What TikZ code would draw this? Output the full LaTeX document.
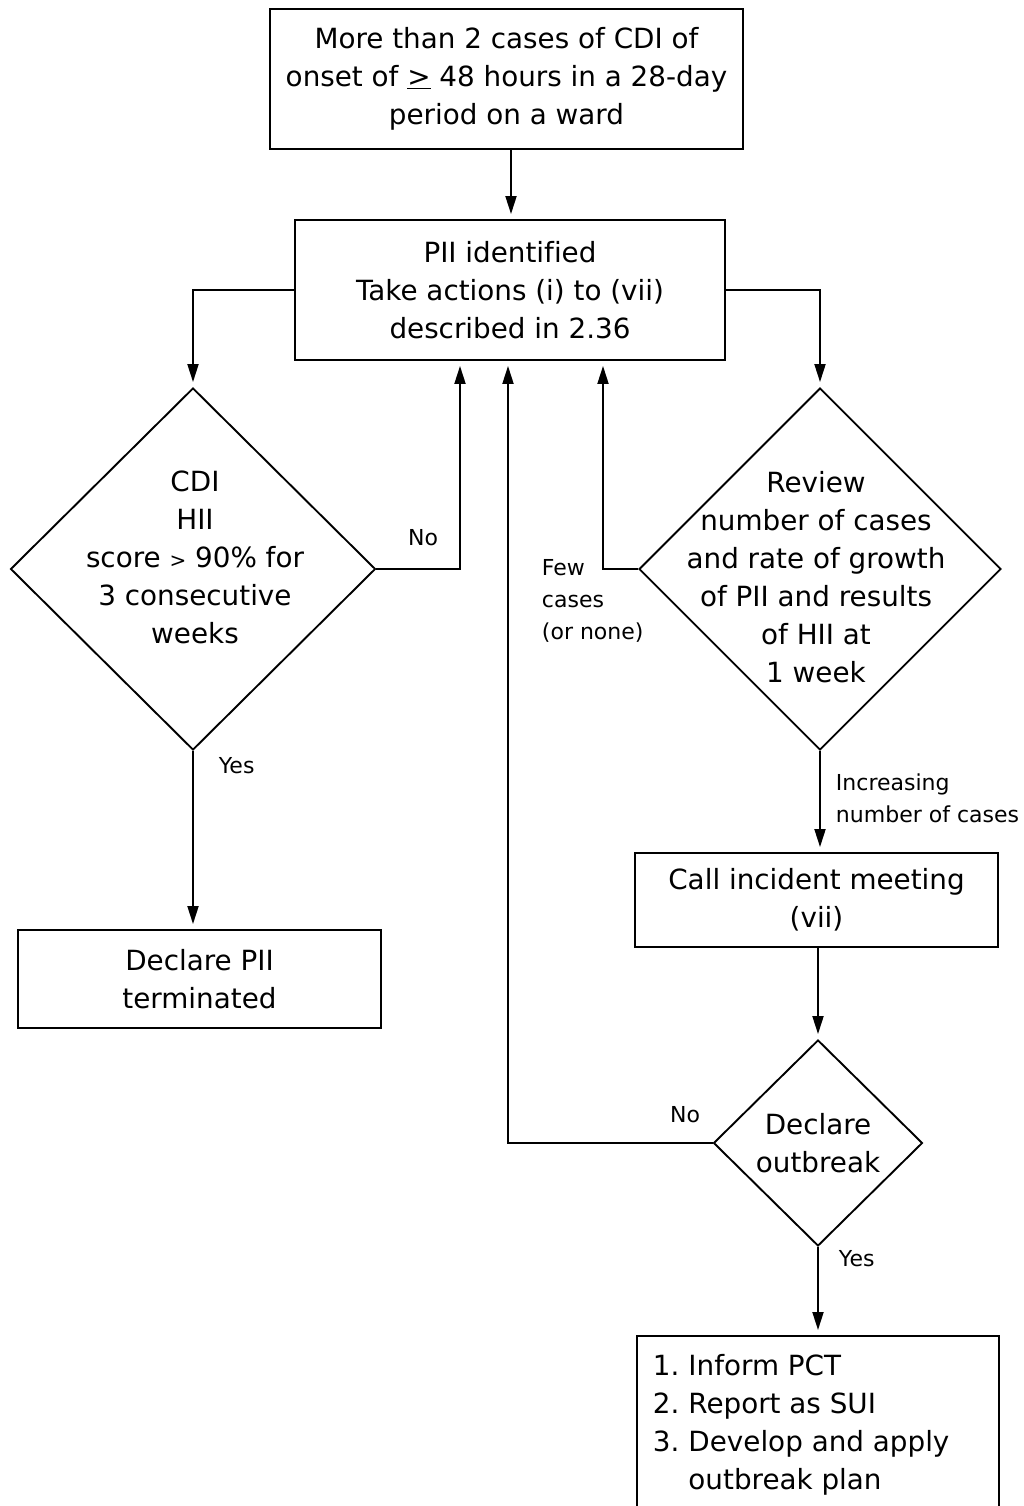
\documentclass[tikz,border=0pt]{standalone}
\usepackage{fontspec}
\setmainfont[Ligatures=NoCommon]{DejaVu Sans}
\usetikzlibrary{shapes.geometric,arrows.meta,calc}
\begin{document}
\begin{tikzpicture}[x=1pt,y=-1pt,
  line width=1.9pt,
  box/.style={draw,rectangle,inner sep=0pt,line width=1.9pt,align=center,font=\fontsize{27.8}{38}\selectfont},
  dia/.style={draw,diamond,inner sep=0pt,line width=1.9pt},
  txt/.style={align=center,font=\fontsize{27.8}{38}\selectfont,inner sep=0pt},
  lbl/.style={align=left,font=\fontsize{22}{32}\selectfont,inner sep=0pt},
  arr/.style={-{Triangle[length=18pt,width=11pt]},shorten >=5pt}
]
\useasboundingbox (0,0) rectangle (1024,1506);

% boxes
\node[box,minimum width=473pt,minimum height=140pt] (top) at (506.5,79)
  {More than 2 cases of CDI of\\onset of \underline{>} 48 hours in a 28-day\\period on a ward};
\node[box,minimum width=430pt,minimum height=140pt] (pii) at (510,290)
  {PII identified\\Take actions (i) to (vii)\\described in 2.36};
\node[box,minimum width=363pt,minimum height=98pt] (term) at (199.5,979)
  {Declare PII\\terminated};
\node[box,minimum width=363pt,minimum height=94pt] (meet) at (816.5,900)
  {Call incident meeting\\(vii)};
\node[draw,rectangle,inner sep=0pt,line width=1.9pt,minimum width=362pt,minimum height=200pt,anchor=north west] (plan) at (636,1335) {};
\node[txt,anchor=base west] (plantxt) at (652,1375)
  {\begin{tabular}[t]{@{}l@{\hspace{9pt}}l@{}}1. & Inform PCT\\2. & Report as SUI\\3. & Develop and apply\\ & outbreak plan\end{tabular}};

% diamonds
\node[dia,minimum width=365pt,minimum height=362pt] (d1) at (193,569) {};
\node[txt] (d1txt) at (195,557) {CDI\\HII\\score {\fontsize{20}{20}\selectfont >} 90\% for\\3 consecutive\\weeks};
\node[dia,minimum width=362pt,minimum height=362pt] (d2) at (820,569) {};
\node[txt] (d2txt) at (816,577) {Review\\number of cases\\and rate of growth\\of PII and results\\of HII at\\1 week};
\node[dia,minimum width=209pt,minimum height=206pt] (d3) at (818,1143) {};
\node[txt] (d3txt) at (818,1143) {Declare\\outbreak};

% helper coordinates
\coordinate (noin) at ($(pii.south)+(-50,0)$);
\coordinate (fewin) at ($(pii.south)+(93,0)$);
\coordinate (longin) at ($(pii.south)+(-2,0)$);

% connectors
\draw[arr] (top.south -| 511,0) -- (pii.north -| 511,0);
\draw[arr] (pii.west) -| (d1.north);
\draw[arr] (pii.east) -| (d2.north);
\draw[arr] (d1.east) -| (noin);
\draw[arr] (d2.west) -| (fewin);
\draw[arr] (d1.south) -- (term.north -| d1.south);
\draw[arr] (d2.south) -- (meet.north -| d2.south);
\draw[arr] (meet.south -| d3.north) -- (d3.north);
\draw[arr] (d3.west) -| (longin);
\draw[arr] (d3.south) -- (plan.north -| d3.south);

% labels
\node[lbl] (lno1) at (423,538) {No};
\node[lbl,anchor=north west] (lfew) at (541,559) {Few\\cases\\(or none)};
\node[lbl,anchor=west] (lyes1) at (218,766) {Yes};
\node[lbl,anchor=north west] (linc) at (835,773) {Increasing\\number of cases};
\node[lbl] (lno2) at (685,1115) {No};
\node[lbl,anchor=west] (lyes2) at (838,1259) {Yes};
\end{tikzpicture}
\end{document}
